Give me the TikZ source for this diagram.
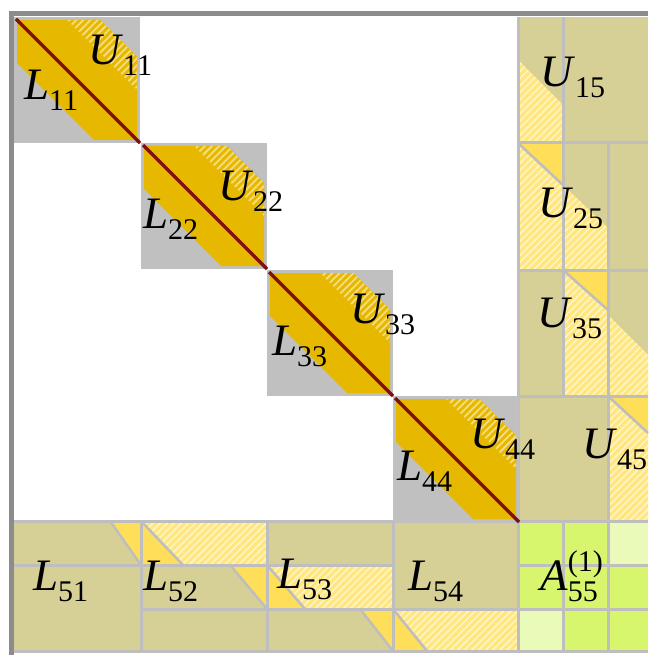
\documentclass[tikz,border=0pt]{standalone}
\usepackage{fontspec}
\setmainfont{Liberation Serif}
\usepackage{xcolor}
\usepackage{tikz}
\usetikzlibrary{patterns.meta}

\definecolor{bandyellow}{RGB}{230,184,0}
\definecolor{stripe}{RGB}{245,222,130}
\definecolor{diagred}{RGB}{130,15,15}
\definecolor{blockgray}{RGB}{192,192,192}
\definecolor{olive}{RGB}{214,208,150}
\definecolor{solidyellow}{RGB}{255,222,90}
\definecolor{fillyellow}{RGB}{255,230,125}
\definecolor{fillstripe}{RGB}{255,245,205}
\definecolor{gridgray}{RGB}{190,190,190}
\definecolor{greenA}{RGB}{216,245,110}
\definecolor{greenB}{RGB}{234,250,185}
\definecolor{framegray}{RGB}{140,140,140}

\newcommand{\blab}[2]{\textit{#1}\raisebox{-11pt}{\fontsize{30}{30}\selectfont #2}}

\begin{document}
\begin{tikzpicture}[x=1pt, y=-1pt,
  lbl/.style={anchor=base west, inner sep=0pt, font=\fontsize{45}{50}\selectfont},
  gridline/.style={draw=gridgray, line width=3pt},
  cut/.style={draw=gridgray, line width=2.5pt},
  hatched/.style={fill=fillyellow, postaction={pattern={Lines[angle=45,distance=5pt,line width=1.5pt]}, pattern color=fillstripe}},
  bandhatch/.style={fill=bandyellow, postaction={pattern={Lines[angle=45,distance=5pt,line width=1.8pt]}, pattern color=stripe}},
  diagline/.style={draw=diagred, line width=3.5pt}]
\useasboundingbox (0,0) rectangle (648,655);
\fill[white] (0,0) rectangle (648,655);

% last block column and row
\fill[olive] (518,17) rectangle (648,521);
\fill[olive] (14,521) rectangle (518,651);
\fill[greenA] (518,521) rectangle (648,651);
\fill[greenB] (608,521) rectangle (648,565);
\fill[greenB] (518,609) rectangle (563,651);

% U_{i5}
\fill[hatched] (518,60) -- (563,105) -- (563,143) -- (518,143) -- cycle;
\fill[solidyellow] (518,143) -- (563,143) -- (563,185) -- cycle;
\fill[hatched] (518,143) -- (563,185) -- (563,270) -- (518,270) -- cycle;
\fill[hatched] (563,185) -- (608,228) -- (608,270) -- (563,270) -- cycle;
\fill[solidyellow] (563,270) -- (608,270) -- (608,310) -- cycle;
\fill[hatched] (563,270) -- (608,310) -- (608,396) -- (563,396) -- cycle;
\fill[hatched] (608,315) -- (648,355) -- (648,396) -- (608,396) -- cycle;
\fill[solidyellow] (608,396) -- (648,396) -- (648,433) -- cycle;
\fill[hatched] (608,396) -- (648,433) -- (648,521) -- (608,521) -- cycle;

% L_{5j}
\fill[solidyellow] (110,521) -- (141,521) -- (141,565) -- cycle;
\fill[solidyellow] (141,521) -- (183,565) -- (141,565) -- cycle;
\fill[hatched] (141,521) -- (267,521) -- (267,565) -- (183,565) -- cycle;
\fill[solidyellow] (230,565) -- (267,565) -- (267,609) -- cycle;
\fill[solidyellow] (267,565) -- (305,609) -- (267,609) -- cycle;
\fill[hatched] (267,565) -- (393,565) -- (393,609) -- (305,609) -- cycle;
\fill[solidyellow] (360,609) -- (393,609) -- (393,651) -- cycle;
\fill[solidyellow] (393,609) -- (427,651) -- (393,651) -- cycle;
\fill[hatched] (393,609) -- (518,609) -- (518,651) -- (427,651) -- cycle;

% grid
\draw[gridline] (518,17) -- (518,651);
\draw[gridline] (518,143) -- (648,143);
\draw[gridline] (518,270) -- (648,270);
\draw[gridline] (518,396) -- (648,396);
\draw[gridline] (14,521) -- (648,521);
\draw[gridline] (141,521) -- (141,651);
\draw[gridline] (267,521) -- (267,651);
\draw[gridline] (393,521) -- (393,651);
\draw[gridline] (563,17) -- (563,396);
\draw[gridline] (563,521) -- (563,651);
\draw[gridline] (608,143) -- (608,651);
\draw[gridline] (14,565) -- (393,565);
\draw[gridline] (518,565) -- (648,565);
\draw[gridline] (141,609) -- (648,609);
\draw[gridline] (14,651) -- (648,651);

\draw[cut] (518,143) -- (563,185);
\draw[cut] (563,270) -- (608,310);
\draw[cut] (608,396) -- (648,433);
\draw[cut] (110,521) -- (141,565);
\draw[cut] (141,521) -- (183,565);
\draw[cut] (230,565) -- (267,609);
\draw[cut] (267,565) -- (305,609);
\draw[cut] (360,609) -- (393,651);
\draw[cut] (393,609) -- (427,651);

% diagonal blocks
\foreach \X/\Y in {14/17, 141/143, 267/270, 393/396} {
  \begin{scope}[shift={(\X,\Y)}]
    \fill[blockgray] (0,0) rectangle (126,126);
    \fill[bandyellow] (3,3) -- (86,3) -- (123,40) -- (123,123) -- (80,123) -- (3,46) -- cycle;
    \fill[bandhatch] (53,3) -- (86,3) -- (123,40) -- (123,73) -- cycle;
    \draw[diagline] (2,2) -- (126,126);
  \end{scope}
}

% labels
\node[lbl] (u11) at (88,65) {\blab{U}{11}};
\node[lbl] (l11) at (24,100) {\blab{L}{11}};
\node[lbl] (u22) at (218,200) {\blab{U}{22}};
\node[lbl] (l22) at (143,228) {\blab{L}{22}};
\node[lbl] (u33) at (350,323) {\blab{U}{33}};
\node[lbl] (l33) at (272,355) {\blab{L}{33}};
\node[lbl] (u44) at (470,448) {\blab{U}{44}};
\node[lbl] (l44) at (397,480) {\blab{L}{44}};
\node[lbl] (u15) at (540,87) {\blab{U}{15}};
\node[lbl] (u25) at (538,217) {\blab{U}{25}};
\node[lbl] (u35) at (537,327) {\blab{U}{35}};
\node[lbl] (u45) at (582,458) {\blab{U}{45}};
\node[lbl] (l51) at (33,590) {\blab{L}{51}};
\node[lbl] (l52) at (143,590) {\blab{L}{52}};
\node[lbl] (l53) at (277,588) {\blab{L}{53}};
\node[lbl] (l54) at (408,590) {\blab{L}{54}};
\node[lbl] (a55) at (540,590) {\textit{A}\rlap{\raisebox{19pt}{\fontsize{30}{30}\selectfont (1)}}\raisebox{-11pt}{\fontsize{30}{30}\selectfont 55}};

% frame
\draw[framegray, line width=5pt] (11,655) -- (11,14) -- (648,14);
\end{tikzpicture}
\end{document}
